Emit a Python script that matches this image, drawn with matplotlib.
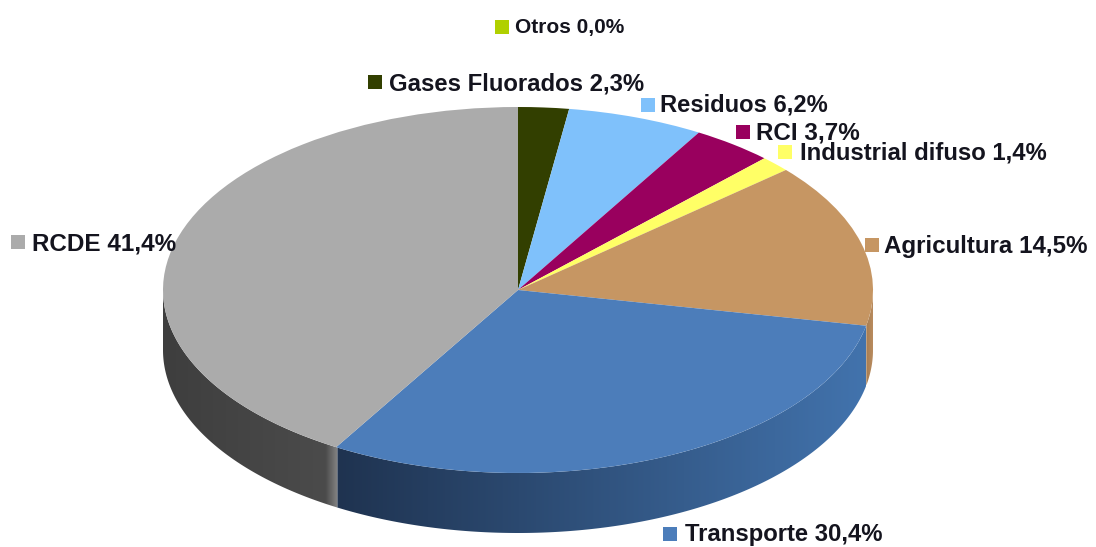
import numpy as np
import matplotlib
matplotlib.use("Agg")
import matplotlib.pyplot as plt
from matplotlib.colors import to_rgb
from matplotlib.patches import Rectangle, Polygon

# clockwise from 12 o'clock
names = ["Gases Fluorados", "Residuos", "RCI", "Industrial difuso", "Agricultura",
         "Transporte", "RCDE", "Otros"]
values = [2.3, 6.2, 3.7, 1.4, 14.5, 30.4, 41.4, 0.0]
colors = ["#323f00", "#7fc1fb", "#99005e", "#ffff66", "#c69663", "#4c7dba", "#ababab", "#b0d000"]
# side wall colours, left end / right end of each slice
wall_left = ["#28320a", "#5f90bd", "#700046", "#bfbf4c", "#a67c50", "#1f3350", "#3e3e3e", "#8aa300"]
wall_right = ["#28320a", "#5f90bd", "#700046", "#bfbf4c", "#b98c5e", "#4273ad", "#4c4c4c", "#8aa300"]

# layout, in pixels of the picture
W, H = 1096, 547
cx, cy, rx, ry = 518, 290, 355, 183
depth = 60 / ry
# square x, square y (centre), text x, text y, font size
label_pos = {
    "Gases Fluorados": (375, 82, 389, 84, 17.2),
    "Residuos": (648, 105, 660, 105, 17.1),
    "RCI": (743, 132, 756, 133, 17.5),
    "Industrial difuso": (785, 152, 800, 153, 17.2),
    "Agricultura": (872, 245, 884, 246, 17.4),
    "Transporte": (670, 534, 685, 535, 17.2),
    "RCDE": (18, 242, 32, 244, 17.5),
    "Otros": (502, 27, 515, 28, 15),
}
SQ = 14

plt.rcParams['font.family'] = ['Liberation Sans', 'DejaVu Sans']
fig = plt.figure(figsize=(W / 100, H / 100), dpi=100)
ax = fig.add_axes([0, 0, 1, 1])

# side wall, drawn first, only the lower half of the ellipse shows
start = 90.0
for v, cl, cr in zip(values, wall_left, wall_right):
    end = start - v * 3.6
    a0 = max(end, -180.0)
    a1 = min(start, 0.0)
    if a1 > a0:
        t = np.radians(np.linspace(a0, a1, 200))
        x = np.cos(t)
        y = np.sin(t)
        xs = np.linspace(0, 1, 400)
        c0 = np.array(to_rgb(cl))
        c1 = np.array(to_rgb(cr))
        grad = c0 + (c1 - c0) * xs[:, None]
        # lighter seam just before the end of the grey slice
        if cl == "#3e3e3e":
            seam = 12 / (rx * (x[-1] - x[0]))
            g = np.clip((xs - (1 - seam)) / seam, 0, 1)[:, None]
            grad = grad + (np.array(to_rgb("#858585")) - grad) * g
        poly = Polygon(np.r_[np.c_[x, y], np.c_[x[::-1], y[::-1] - depth]], closed=True,
                       transform=ax.transData, fc="none", ec="none")
        ax.add_patch(poly)
        im = ax.imshow(grad[None, :, :], extent=(x[0], x[-1], y.min() - depth, y.max()),
                       aspect="auto", interpolation="bilinear")
        im.set_clip_path(poly)
    start = end

ax.pie(values, colors=colors, startangle=90, counterclock=False, radius=1.0,
       center=(0, 0), wedgeprops={"linewidth": 0})
ax.set_aspect("auto")
ax.set_xlim(-cx / rx, (W - cx) / rx)
ax.set_ylim(-(H - cy) / ry, cy / ry)
ax.axis("off")

# overlay in picture pixels for the labels
ov = fig.add_axes([0, 0, 1, 1])
ov.set_xlim(0, W)
ov.set_ylim(H, 0)
ov.axis("off")
ov.patch.set_alpha(0)
for n, v, c in zip(names, values, colors):
    sx, sy, tx, ty, fs = label_pos[n]
    ov.add_patch(Rectangle((sx - SQ / 2, sy - SQ / 2), SQ, SQ, color=c, lw=0, zorder=3))
    txt = f"{n} {v:.1f}%".replace(".", ",")
    ov.text(tx, ty, txt, fontsize=fs, fontweight="bold", color="#14141e",
            ha="left", va="center", zorder=4)

fig.savefig("out.png", dpi=100)
